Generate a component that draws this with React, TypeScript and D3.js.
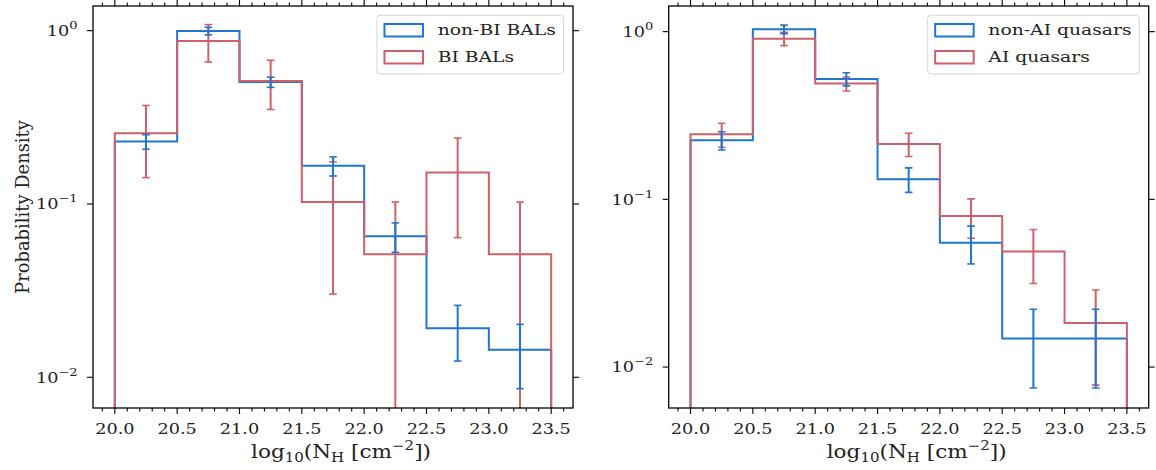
import React, { useEffect, useRef } from 'react';
import * as d3 from 'd3';

// Histogram bins in log10(N_H)
const BIN_EDGES = [20.0, 20.5, 21.0, 21.5, 22.0, 22.5, 23.0, 23.5];
const X_TICKS = [20.0, 20.5, 21.0, 21.5, 22.0, 22.5, 23.0, 23.5];
const Y_TICK_EXPONENTS = [0, -1, -2];

// Left panel: BAL quasars split by balnicity index
const nonBIDensity = [0.229, 0.995, 0.505, 0.166, 0.0652, 0.0192, 0.0144];
const nonBIError = [0.022, 0.05, 0.034, 0.021, 0.0126, 0.0068, 0.0058];
const biDensity = [0.256, 0.872, 0.513, 0.1027, 0.0513, 0.152, 0.0513];
const biError = [0.114, 0.212, 0.162, 0.0725, 0.0513, 0.088, 0.0513];

// Right panel: quasars split by absorption index
const nonAIDensity = [0.225, 1.033, 0.522, 0.132, 0.0552, 0.0148, 0.0148];
const nonAIError = [0.028, 0.06, 0.047, 0.022, 0.014, 0.0073, 0.0073];
const aiDensity = [0.2445, 0.908, 0.49, 0.214, 0.0796, 0.0488, 0.0183];
const aiError = [0.04, 0.083, 0.047, 0.034, 0.021, 0.0173, 0.0105];

const BLUE = '#1f76d0';
const RED = '#cf5f6a';
const FONT = '"DejaVu Serif", serif';
const TEXT = '#222';

// glyphs in this figure are drawn slightly wide
const TICK_FS = 15;
const TICK_SX = 1.18;
const LEGEND_FS = 15;
const LEGEND_SX = 1.25;
const XLABEL_FS = 18;
const XLABEL_SX = 1.2;
const YLABEL_FS = 17.9;

type Series = { label: string; color: string; density: number[]; error: number[] };
type Panel = {
  id: string;
  series: Series[];
  yDomain: [number, number];
  x0: number;
  x1: number;
  yLabel: boolean;
};

const TOP = 6;
const BOTTOM = 408;

const PANELS: Panel[] = [
  {
    id: 'bal',
    series: [
      { label: 'non-BI BALs', color: BLUE, density: nonBIDensity, error: nonBIError },
      { label: 'BI BALs', color: RED, density: biDensity, error: biError },
    ],
    yDomain: [0.00665, 1.388],
    x0: 93,
    x1: 573,
    yLabel: true,
  },
  {
    id: 'ai',
    series: [
      { label: 'non-AI quasars', color: BLUE, density: nonAIDensity, error: nonAIError },
      { label: 'AI quasars', color: RED, density: aiDensity, error: aiError },
    ],
    yDomain: [0.0057, 1.422],
    x0: 668.7,
    x1: 1148.7,
    yLabel: false,
  },
];

type G = d3.Selection<SVGGElement, unknown, null, undefined>;

function wideText(parent: G, x: number, y: number, fs: number, sx: number, anchor: string) {
  return parent
    .append('g')
    .attr('transform', `translate(${x},${y}) scale(${sx},1)`)
    .append('text')
    .attr('text-anchor', anchor)
    .attr('font-family', FONT)
    .attr('font-size', fs)
    .attr('fill', TEXT);
}

function drawPanel(svg: d3.Selection<SVGSVGElement, unknown, null, undefined>, p: Panel) {
  const x = d3.scaleLinear().domain([19.825, 23.675]).range([p.x0, p.x1]);
  const y = d3.scaleLog().domain(p.yDomain).range([BOTTOM, TOP]);
  const g = svg.append('g') as G;

  g.append('clipPath')
    .attr('id', `clip-${p.id}`)
    .append('rect')
    .attr('x', p.x0)
    .attr('y', TOP)
    .attr('width', p.x1 - p.x0)
    .attr('height', BOTTOM - TOP);

  const plot = g.append('g').attr('clip-path', `url(#clip-${p.id})`);
  const below = BOTTOM + 10;

  // step outlines
  const line = d3
    .line<[number, number]>()
    .x((d) => d[0])
    .y((d) => d[1]);
  p.series.forEach((s) => {
    const pts: [number, number][] = [[x(BIN_EDGES[0]), below]];
    s.density.forEach((v, i) => {
      pts.push([x(BIN_EDGES[i]), y(v)]);
      pts.push([x(BIN_EDGES[i + 1]), y(v)]);
    });
    pts.push([x(BIN_EDGES[BIN_EDGES.length - 1]), below]);
    plot
      .append('path')
      .attr('d', line(pts))
      .attr('fill', 'none')
      .attr('stroke', s.color)
      .attr('stroke-width', 2)
      .attr('stroke-linejoin', 'miter');
  });

  // error bars (red first so the blue ones sit on top)
  [...p.series].reverse().forEach((s) => {
    s.density.forEach((v, i) => {
      const cx = x((BIN_EDGES[i] + BIN_EDGES[i + 1]) / 2);
      const hi = v + s.error[i];
      const lo = v - s.error[i];
      const yHi = y(hi);
      const yLo = lo > 0 ? y(lo) : below;
      plot
        .append('line')
        .attr('x1', cx)
        .attr('x2', cx)
        .attr('y1', yHi)
        .attr('y2', yLo)
        .attr('stroke', s.color)
        .attr('stroke-width', 2);
      const caps = lo > 0 ? [yHi, yLo] : [yHi];
      caps.forEach((cy) => {
        plot
          .append('line')
          .attr('x1', cx - 3.8)
          .attr('x2', cx + 3.8)
          .attr('y1', cy)
          .attr('y2', cy)
          .attr('stroke', s.color)
          .attr('stroke-width', 1.6);
      });
    });
  });

  // frame
  g.append('rect')
    .attr('x', p.x0)
    .attr('y', TOP)
    .attr('width', p.x1 - p.x0)
    .attr('height', BOTTOM - TOP)
    .attr('fill', 'none')
    .attr('stroke', '#000')
    .attr('stroke-width', 1.3);

  // x ticks, bottom and top, outward
  const minor = d3
    .range(199, 237)
    .map((v) => v / 10)
    .filter((v) => !X_TICKS.some((t) => Math.abs(t - v) < 1e-6));
  const tickG = g.append('g').attr('stroke', '#000').attr('stroke-width', 1.1);
  X_TICKS.forEach((t) => {
    tickG.append('line').attr('x1', x(t)).attr('x2', x(t)).attr('y1', BOTTOM).attr('y2', BOTTOM + 6);
    tickG.append('line').attr('x1', x(t)).attr('x2', x(t)).attr('y1', TOP).attr('y2', TOP - 6);
  });
  minor.forEach((t) => {
    tickG.append('line').attr('x1', x(t)).attr('x2', x(t)).attr('y1', BOTTOM).attr('y2', BOTTOM + 3.5);
    tickG.append('line').attr('x1', x(t)).attr('x2', x(t)).attr('y1', TOP).attr('y2', TOP - 3.5);
  });
  X_TICKS.forEach((t) => {
    wideText(g, x(t), 434, TICK_FS, TICK_SX, 'middle').text(d3.format('.1f')(t));
  });

  // y ticks, left and right, outward
  Y_TICK_EXPONENTS.forEach((e) => {
    const ty = y(Math.pow(10, e));
    tickG.append('line').attr('x1', p.x0).attr('x2', p.x0 - 6).attr('y1', ty).attr('y2', ty);
    tickG.append('line').attr('x1', p.x1).attr('x2', p.x1 + 6).attr('y1', ty).attr('y2', ty);
    const t = wideText(g, p.x0 - 15.5, ty + 5.3, TICK_FS, TICK_SX, 'end');
    t.append('tspan').text('10');
    t.append('tspan')
      .attr('font-size', 11)
      .attr('dy', -7)
      .text(e === 0 ? '0' : `\u2212${Math.abs(e)}`);
  });

  // x label (mathtext-style, offset slightly right of the axis centre)
  const cx = (p.x0 + p.x1) / 2 + 8;
  const xl = wideText(g, cx, 458, XLABEL_FS, XLABEL_SX, 'middle');
  xl.append('tspan').text('log');
  xl.append('tspan').attr('font-size', 12.5).attr('dy', 4).text('10');
  xl.append('tspan').attr('dy', -4).text('(N');
  xl.append('tspan').attr('font-size', 12.5).attr('dy', 4).text('H');
  xl.append('tspan').attr('dy', -4).text(' [cm');
  xl.append('tspan').attr('font-size', 12.5).attr('dy', -8).text('\u22122');
  xl.append('tspan').attr('dy', 8).text('])');

  if (p.yLabel) {
    g.append('text')
      .attr('transform', `translate(28.5,${(TOP + BOTTOM) / 2}) rotate(-90)`)
      .attr('text-anchor', 'middle')
      .attr('font-family', FONT)
      .attr('font-size', YLABEL_FS)
      .attr('fill', TEXT)
      .text('Probability Density');
  }

  // legend
  const lg = g.append('g') as G;
  const box = lg.append('rect');
  const texts: SVGTextElement[] = [];
  const rowY = [30, 57];
  const textGroups: G[] = [];
  p.series.forEach((s) => {
    const tg = lg.append('g') as G;
    const t = tg
      .append('text')
      .attr('font-family', FONT)
      .attr('font-size', LEGEND_FS)
      .attr('fill', TEXT)
      .text(s.label);
    texts.push(t.node() as SVGTextElement);
    textGroups.push(tg);
  });
  const textW = Math.max(...texts.map((t) => t.getComputedTextLength())) * LEGEND_SX;
  const width = 6.7 + 40 + 14 + textW + 7.5;
  const left = p.x1 - 9.5 - width;
  box
    .attr('x', left)
    .attr('y', 15.3)
    .attr('width', width)
    .attr('height', 58.7)
    .attr('rx', 3)
    .attr('fill', 'rgba(255,255,255,0.8)')
    .attr('stroke', '#d6d6d6')
    .attr('stroke-width', 1);
  textGroups.forEach((tg, i) =>
    tg.attr('transform', `translate(${left + 60.7},${rowY[i] + 5.4}) scale(${LEGEND_SX},1)`)
  );
  p.series.forEach((s, i) => {
    lg.append('rect')
      .attr('x', left + 7.5)
      .attr('y', rowY[i] - 6)
      .attr('width', 38.5)
      .attr('height', 12.5)
      .attr('fill', 'none')
      .attr('stroke', s.color)
      .attr('stroke-width', 2);
  });
}

export default function App() {
  const ref = useRef<SVGSVGElement>(null);
  useEffect(() => {
    if (!ref.current) return;
    const svg = d3.select(ref.current);
    svg.selectAll('*').remove();
    PANELS.forEach((p) => drawPanel(svg, p));
  }, []);
  return (
    <svg
      ref={ref}
      width={1156}
      height={470}
      style={{ position: 'absolute', left: 0, top: 0, background: '#fff' }}
    />
  );
}
